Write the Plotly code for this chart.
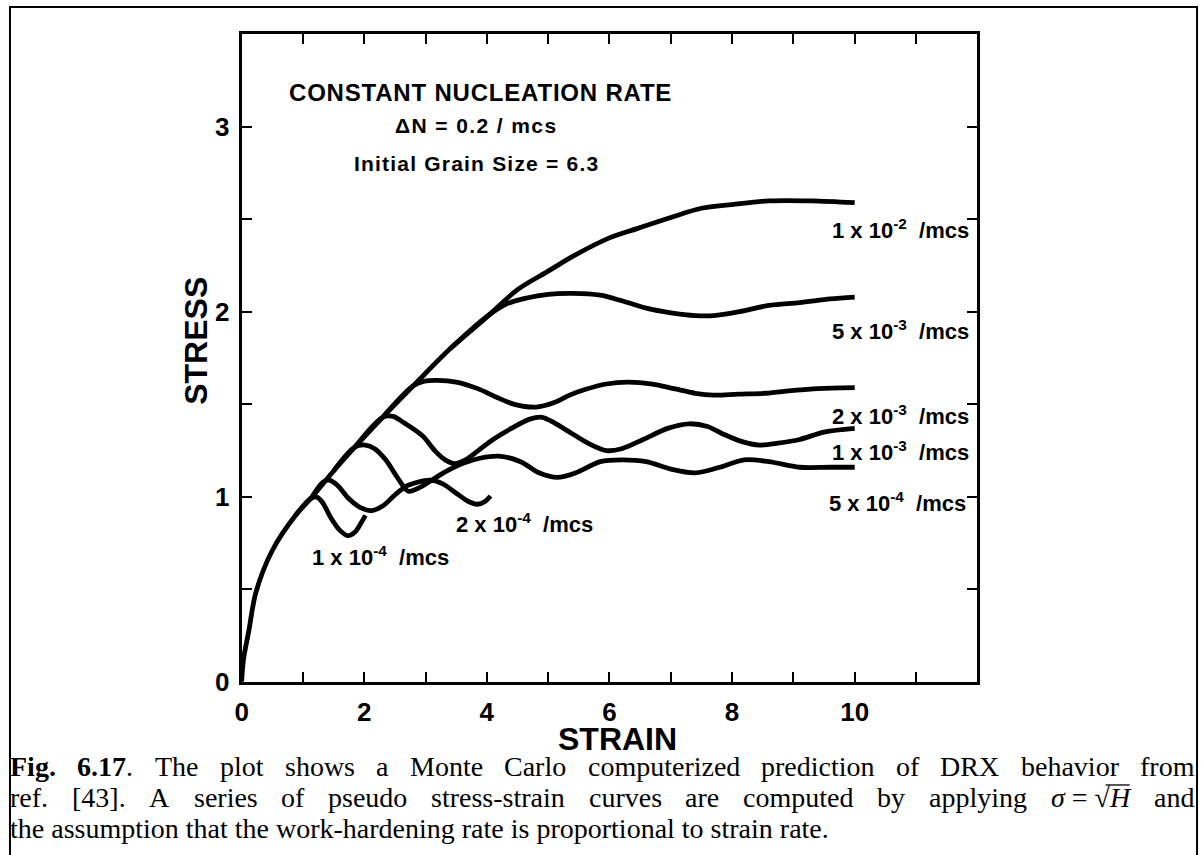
import plotly.graph_objects as go

W, H = 1201, 855

# ---- stress-strain curves (Monte Carlo DRX), one pair of arrays per strain rate ----
strain_1e2 = [0.0, 0.03, 0.12, 0.23, 0.5, 0.88, 1.15, 1.5, 1.85, 2.3, 2.8, 3.4, 3.96,
              4.5, 5.0, 5.4, 6.0, 6.45, 7.0, 7.5, 8.0, 8.6, 9.3, 10.0]
stress_1e2 = [0.0, 0.12, 0.28, 0.48, 0.71, 0.90, 1.0, 1.14, 1.27, 1.43, 1.60, 1.80, 1.96,
              2.12, 2.22, 2.30, 2.40, 2.45, 2.51, 2.56, 2.58, 2.60, 2.60, 2.59]

strain_5e3 = [3.4, 3.96, 4.3, 4.65, 5.0, 5.4, 5.85, 6.2, 6.6, 7.0, 7.4, 7.7, 8.1, 8.6, 9.1, 9.6, 10.0]
stress_5e3 = [1.80, 1.965, 2.04, 2.075, 2.095, 2.10, 2.09, 2.06, 2.02, 1.995, 1.98, 1.98, 2.0,
              2.035, 2.05, 2.07, 2.08]

strain_2e3 = [2.3, 2.8, 2.98, 3.2, 3.5, 3.85, 4.15, 4.45, 4.8, 5.1, 5.35, 5.6, 5.95, 6.3, 6.7,
              7.05, 7.4, 7.7, 8.1, 8.55, 9.0, 9.4, 10.0]
stress_2e3 = [1.43, 1.60, 1.625, 1.63, 1.62, 1.585, 1.54, 1.50, 1.485, 1.51, 1.55, 1.58, 1.61,
              1.62, 1.61, 1.585, 1.56, 1.55, 1.555, 1.56, 1.575, 1.585, 1.59]

strain_1e3 = [1.85, 2.3, 2.47, 2.65, 2.95, 3.15, 3.32, 3.48, 3.65, 3.86, 4.1, 4.4, 4.7, 4.9, 5.1,
              5.35, 5.65, 5.95, 6.2, 6.55, 6.95, 7.3, 7.6, 7.85, 8.15, 8.45, 8.75, 9.1, 9.5, 10.0]
stress_1e3 = [1.27, 1.43, 1.435, 1.40, 1.33, 1.25, 1.20, 1.18, 1.20, 1.25, 1.31, 1.37, 1.42, 1.43,
              1.40, 1.35, 1.29, 1.25, 1.26, 1.31, 1.37, 1.395, 1.38, 1.34, 1.30, 1.28, 1.29, 1.31,
              1.35, 1.37]

strain_5e4 = [1.5, 1.85, 2.02, 2.17, 2.35, 2.55, 2.72, 2.9, 3.1, 3.35, 3.6, 3.9, 4.2, 4.55, 4.85,
              5.15, 5.45, 5.85, 6.2, 6.6, 7.0, 7.4, 7.8, 8.2, 8.6, 9.1, 9.6, 10.0]
stress_5e4 = [1.14, 1.27, 1.28, 1.26, 1.20, 1.10, 1.03, 1.05, 1.09, 1.14, 1.18, 1.21, 1.22, 1.19,
              1.13, 1.105, 1.13, 1.19, 1.20, 1.19, 1.15, 1.13, 1.16, 1.20, 1.19, 1.16, 1.16, 1.16]

strain_2e4 = [1.15, 1.33, 1.43, 1.57, 1.75, 1.95, 2.12, 2.3, 2.5, 2.7, 2.88, 3.08, 3.28, 3.5,
              3.7, 3.85, 3.97, 4.06]
stress_2e4 = [1.0, 1.08, 1.09, 1.06, 0.99, 0.94, 0.925, 0.95, 1.01, 1.06, 1.08, 1.09, 1.07, 1.02,
              0.975, 0.96, 0.975, 1.005]

strain_1e4 = [0.88, 1.12, 1.22, 1.32, 1.45, 1.6, 1.73, 1.85, 1.95, 2.02]
stress_1e4 = [0.90, 0.99, 1.0, 0.97, 0.89, 0.82, 0.79, 0.81, 0.86, 0.90]

curves = [
    (strain_1e2, stress_1e2), (strain_5e3, stress_5e3), (strain_2e3, stress_2e3),
    (strain_1e3, stress_1e3), (strain_5e4, stress_5e4), (strain_2e4, stress_2e4),
    (strain_1e4, stress_1e4),
]

# curve labels: strain rate (mantissa x 10^exponent) and where the label sits
rate_mantissa = ["1", "5", "2", "1", "5", "2", "1"]
rate_exponent = ["-2", "-3", "-3", "-3", "-4", "-4", "-4"]
label_strain = [9.6, 9.6, 9.6, 9.6, 9.55, 3.47, 1.12]
label_stress = [2.45, 1.90, 1.44, 1.25, 0.97, 0.86, 0.68]

x_tick_vals = list(range(0, 12))
x_tick_text = [str(v) if (v % 2 == 0 and v <= 10) else "" for v in x_tick_vals]
y_tick_vals = [0, 0.5, 1.0, 1.5, 2.0, 2.5, 3.0]
y_tick_text = ["0", "", "1", "", "2", "", "3"]

header_lines = ["CONSTANT NUCLEATION RATE", "\u0394N = 0.2 / mcs", "Initial Grain Size = 6.3"]

caption_line1 = "The plot shows a Monte Carlo computerized prediction of DRX behavior from"
caption_line2 = "ref. [43]. A series of pseudo stress-strain curves are computed by applying"
caption_line3 = "the assumption that the work-hardening rate is proportional to strain rate."

# ---- layout geometry (pixels) ----
PX0, PX1 = 236, 976          # plot area left/right
PY_TOP, PY_BOT = 35, 694     # plot area top/bottom
SANS = "Liberation Sans, Arial, sans-serif"
SERIF = "Liberation Serif, Times New Roman, serif"


def px_x(p):
    return p / W


def px_y(p):
    return 1 - p / H


fig = go.Figure()
for sx, sy in curves:
    fig.add_trace(go.Scatter(x=sx, y=sy, mode="lines",
                             line=dict(color="black", width=4.8, shape="spline", smoothing=0.9),
                             hoverinfo="skip"))

axis_common = dict(ticks="inside", ticklen=10, tickwidth=2, tickcolor="black", showline=True,
                   linewidth=3, linecolor="black", mirror="ticks", showgrid=False, zeroline=False,
                   tickfont=dict(family=SANS, size=26, color="black", weight="bold"))

fig.update_layout(
    width=W, height=H, margin=dict(l=0, r=0, t=0, b=0),
    paper_bgcolor="white", plot_bgcolor="white", showlegend=False,
    xaxis=dict(domain=[px_x(PX0), px_x(PX1)], range=[0, 12], tickmode="array",
               tickvals=x_tick_vals, ticktext=x_tick_text, ticklabelstandoff=5, **axis_common),
    yaxis=dict(domain=[px_y(PY_BOT), px_y(PY_TOP)], range=[0, 3.5], tickmode="array",
               tickvals=y_tick_vals, ticktext=y_tick_text, ticklabelstandoff=4, **axis_common),
)

annotations = []
# axis titles
annotations.append(dict(text="STRAIN", x=px_x(614), y=px_y(752), xref="paper", yref="paper",
                        xanchor="center", yanchor="middle", showarrow=False,
                        font=dict(family=SANS, size=32, color="black", weight="bold")))
annotations.append(dict(text="STRESS", x=px_x(190), y=px_y(347), xref="paper", yref="paper",
                        xanchor="center", yanchor="middle", showarrow=False, textangle=-90,
                        font=dict(family=SANS, size=32, color="black", weight="bold")))

# header block
for txt, cx, cy, fs, ls in zip(header_lines, [476, 472, 472], [94, 128, 166], [24, 21, 21],
                               [0.8, 1.4, 1.2]):
    annotations.append(dict(text=f'<span style="letter-spacing:{ls}px">{txt}</span>',
                            x=px_x(cx), y=px_y(cy), xref="paper", yref="paper",
                            xanchor="center", yanchor="middle", showarrow=False,
                            font=dict(family=SANS, size=fs, color="black", weight="bold")))

# strain-rate labels
for m, e, lx, ly in zip(rate_mantissa, rate_exponent, label_strain, label_stress):
    annotations.append(dict(text=f"{m} x 10<sup>{e}</sup>\u00a0\u00a0/mcs", x=lx, y=ly,
                            xref="x", yref="y", xanchor="left", yanchor="middle", showarrow=False,
                            font=dict(family=SANS, size=22, color="black", weight="bold")))

# ---- caption (Times metrics, justified lines) ----
TR = {" ": .25, "a": .444, "b": .5, "c": .444, "d": .5, "e": .444, "f": .333, "g": .5, "h": .5,
      "i": .278, "j": .278, "k": .5, "l": .278, "m": .778, "n": .5, "o": .5, "p": .5, "q": .5,
      "r": .333, "s": .389, "t": .278, "u": .5, "v": .5, "w": .722, "x": .5, "y": .5, "z": .444,
      "A": .722, "B": .667, "C": .667, "D": .722, "E": .611, "F": .556, "G": .722, "H": .722,
      "I": .333, "J": .389, "K": .722, "L": .611, "M": .889, "N": .722, "O": .722, "P": .556,
      "Q": .722, "R": .667, "S": .556, "T": .611, "U": .722, "V": .722, "W": .944, "X": .722,
      "Y": .722, "Z": .611, ".": .25, ",": .25, "[": .333, "]": .333, "-": .333, "=": .564}
TB = {"F": .611, "i": .278, "g": .5, ".": .25}
CAP_FS = 28
LEFT, RIGHT = 1, 1192
LINE_Y = [780, 812, 843]


def w_text(s, bold=False):
    tot = 0.0
    for ch in s:
        if ch.isdigit():
            tot += .5
        elif bold and ch in TB:
            tot += TB[ch]
        else:
            tot += TR.get(ch, .5)
    return tot * CAP_FS


def place_words(tokens, cy):
    widths = [t[1] for t in tokens]
    gap = (RIGHT - LEFT - sum(widths)) / (len(tokens) - 1)
    x = LEFT
    xs = []
    for html, wd in tokens:
        xs.append(x)
        annotations.append(dict(text=html, x=px_x(x), y=px_y(cy), xref="paper", yref="paper",
                                xanchor="left", yanchor="middle", showarrow=False,
                                font=dict(family=SERIF, size=CAP_FS, color="black")))
        x += wd + gap
    return xs


# line 1
tok1 = [("<b>Fig.</b>", w_text("Fig.", True)), ("<b>6.17</b>.", w_text("6.17", True) + w_text("."))]
tok1 += [(wd, w_text(wd)) for wd in caption_line1.split(" ")]
place_words(tok1, LINE_Y[0])

# line 2 with the formula sigma = sqrt(H)
tok2 = [(wd, w_text(wd)) for wd in caption_line2.split(" ")]
formula_w = (0.5 + 0.25 + 0.564 + 0.25 + 0.549 + 0.722) * CAP_FS
tok2.append(("<i>\u03c3</i> = \u221a<i>H</i>", formula_w))
tok2.append(("and", w_text("and")))
xs2 = place_words(tok2, LINE_Y[1])
fx = xs2[-2]
h_start = fx + (0.5 + 0.25 + 0.564 + 0.25 + 0.549) * CAP_FS
h_end = fx + formula_w + 2

# line 3 (left aligned)
annotations.append(dict(text=caption_line3, x=px_x(LEFT), y=px_y(LINE_Y[2]), xref="paper", yref="paper",
                        xanchor="left", yanchor="middle", showarrow=False,
                        font=dict(family=SERIF, size=CAP_FS, color="black")))

fig.update_layout(annotations=annotations)

# frame around figure + caption, and the vinculum of the square root
fig.add_shape(type="rect", xref="paper", yref="paper", x0=px_x(3), x1=px_x(1197),
              y0=-0.05, y1=px_y(7), line=dict(color="black", width=2))
fig.add_shape(type="line", xref="paper", yref="paper", x0=px_x(h_start - 2), x1=px_x(h_end),
              y0=px_y(LINE_Y[1] - 13), y1=px_y(LINE_Y[1] - 13), line=dict(color="black", width=1.3))

fig.write_html("out.html")
